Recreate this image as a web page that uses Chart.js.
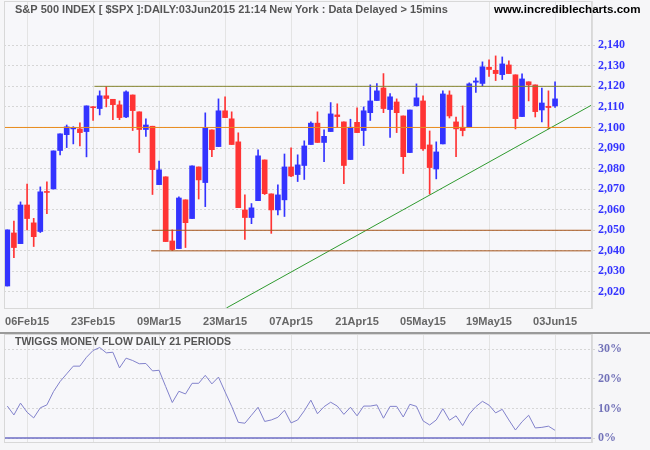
<!DOCTYPE html>
<html>
<head>
<meta charset="utf-8">
<script src="https://cdn.jsdelivr.net/npm/chart.js@4.4.1/dist/chart.umd.min.js"></script>
<style>
  html, body { margin: 0; padding: 0; background: #f6f6f8; }
  #wrap { position: relative; width: 650px; height: 450px; overflow: hidden; }
  #priceBox { position: absolute; left: 0; top: 0; width: 650px; height: 332px; }
  #flowBox { position: absolute; left: 0; top: 332px; width: 650px; height: 116px; border-top: 2px solid #9a9a9a; }
</style>
</head>
<body>
<div id="wrap">
  <div id="priceBox"><canvas id="price" width="650" height="332"></canvas></div>
  <div id="flowBox"><canvas id="flow" width="650" height="116"></canvas></div>
</div>
<script>
// S&P 500 daily candles, Feb - Jun 2015
const dates = ['03Feb15','04Feb15','05Feb15','06Feb15','09Feb15','10Feb15','11Feb15','12Feb15','13Feb15','17Feb15',
  '18Feb15','19Feb15','20Feb15','23Feb15','24Feb15','25Feb15','26Feb15','27Feb15','02Mar15','03Mar15',
  '04Mar15','05Mar15','06Mar15','09Mar15','10Mar15','11Mar15','12Mar15','13Mar15','16Mar15','17Mar15',
  '18Mar15','19Mar15','20Mar15','23Mar15','24Mar15','25Mar15','26Mar15','27Mar15','30Mar15','31Mar15',
  '01Apr15','02Apr15','06Apr15','07Apr15','08Apr15','09Apr15','10Apr15','13Apr15','14Apr15','15Apr15',
  '16Apr15','17Apr15','20Apr15','21Apr15','22Apr15','23Apr15','24Apr15','27Apr15','28Apr15','29Apr15',
  '30Apr15','01May15','04May15','05May15','06May15','07May15','08May15','11May15','12May15','13May15',
  '14May15','15May15','18May15','19May15','20May15','21May15','22May15','26May15','27May15','28May15',
  '29May15','01Jun15','02Jun15','03Jun15'];

const opens = [2022.9,2048.7,2043.5,2062.3,2053.6,2049.4,2068.7,2070.1,2088.8,2096.5,
  2099.3,2099.3,2098.0,2110.0,2109.2,2115.4,2113.7,2111.0,2105.1,2115.8,
  2107.6,2099.0,2100.6,2072.2,2076.0,2044.8,2041.1,2064.8,2055.7,2080.8,
  2073.2,2098.8,2090.7,2108.1,2104.2,2093.0,2059.9,2056.2,2064.4,2084.2,
  2067.7,2059.9,2064.8,2080.8,2077.1,2081.5,2091.7,2102.1,2092.7,2098.0,
  2106.1,2102.7,2084.4,2102.5,2098.5,2107.2,2113.1,2119.2,2108.7,2112.4,
  2105.6,2087.8,2110.5,2112.9,2091.5,2079.8,2092.0,2115.8,2102.7,2100.1,
  2100.3,2122.0,2121.4,2129.3,2127.8,2125.7,2130.4,2125.6,2105.3,2122.2,
  2120.7,2108.5,2110.3,2110.5];
const highs = [2050.2,2054.5,2063.8,2072.5,2055.8,2071.1,2073.5,2088.6,2096.9,2101.2,
  2100.4,2102.2,2110.5,2110.2,2117.8,2119.9,2113.7,2112.9,2117.8,2115.8,
  2107.6,2104.2,2100.6,2083.7,2076.0,2050.2,2066.3,2064.8,2081.3,2080.8,
  2107.1,2098.8,2113.9,2114.9,2107.6,2097.4,2067.2,2063.0,2089.1,2084.2,
  2067.7,2072.1,2087.1,2090.1,2086.7,2093.5,2102.7,2107.6,2098.8,2112.1,
  2111.5,2102.7,2104.0,2109.5,2110.0,2120.7,2121.4,2126.2,2116.5,2113.9,
  2105.6,2108.5,2121.2,2115.4,2098.3,2093.0,2117.8,2117.8,2105.1,2110.5,
  2121.7,2124.1,2131.9,2132.9,2134.8,2134.3,2132.4,2125.6,2126.1,2122.2,
  2120.7,2119.2,2117.8,2122.2];
const lows = [2022.9,2036.7,2043.5,2050.2,2042.1,2048.9,2058.1,2070.1,2086.7,2090.2,
  2092.0,2091.0,2085.7,2103.4,2106.1,2110.0,2103.8,2103.8,2104.8,2098.5,
  2087.8,2095.6,2067.4,2072.2,2044.5,2040.1,2041.1,2041.6,2055.7,2065.2,
  2061.5,2085.8,2090.7,2104.8,2091.7,2061.0,2045.5,2053.2,2064.4,2067.4,
  2048.5,2057.5,2056.7,2076.1,2073.7,2074.7,2091.7,2092.7,2083.4,2098.0,
  2100.1,2072.7,2084.4,2097.5,2091.2,2103.4,2113.1,2107.2,2095.1,2097.5,
  2077.6,2087.8,2110.5,2088.8,2067.6,2075.0,2092.0,2104.6,2085.8,2095.9,
  2100.3,2117.0,2120.2,2124.8,2122.8,2123.3,2126.2,2099.3,2105.3,2112.9,
  2105.1,2102.7,2099.3,2109.7];
const closes = [2050.2,2041.6,2062.3,2055.7,2046.9,2068.7,2068.4,2088.6,2096.9,2100.3,
  2099.8,2097.5,2110.5,2109.6,2115.4,2114.1,2111.1,2104.8,2117.3,2108.2,
  2099.0,2101.2,2079.5,2079.4,2044.5,2040.6,2065.7,2053.7,2081.3,2074.5,
  2099.9,2089.2,2108.1,2104.8,2091.7,2061.0,2056.2,2060.9,2086.2,2067.8,
  2059.9,2067.2,2080.8,2076.4,2081.8,2091.0,2102.1,2092.7,2095.7,2106.6,
  2105.3,2081.5,2100.1,2097.5,2108.1,2112.9,2117.8,2109.2,2114.9,2107.2,
  2085.8,2108.5,2114.4,2089.6,2080.5,2088.1,2116.3,2105.6,2099.3,2098.5,
  2121.2,2122.6,2129.5,2128.2,2126.2,2130.9,2126.2,2104.3,2123.6,2120.7,
  2107.7,2111.9,2109.7,2113.9];

// Twiggs Money Flow (21), percent
const flow = [10.8,7.8,11.8,8.7,6.8,10.2,11.2,15.7,19.1,21.7,
  24.3,24.3,27.3,29.6,30.6,28.8,29.0,23.7,27.0,26.2,
  25.1,25.2,22.7,22.9,17.4,12.0,15.8,14.9,18.5,18.5,
  21.2,18.3,20.6,15.6,10.7,5.3,5.0,7.7,10.4,5.6,
  6.1,7.0,9.4,5.1,6.1,9.2,12.8,8.2,10.6,12.1,
  10.8,8.0,10.4,7.5,10.8,10.8,11.2,6.7,10.7,10.7,
  7.1,11.4,10.7,5.8,4.4,6.1,9.9,6.0,7.5,4.2,
  8.1,10.6,12.4,11.1,8.5,9.7,6.1,2.7,5.5,7.7,
  3.4,3.6,4.0,2.6];

// drawn horizontal levels and trend line (value, first bar index)
const levelValues = [2120, 2100, 2050, 2040];
const levelFrom = [13.2, -0.5, 21.9, 21.8];
const levelColors = ['#85852e', '#e88a1a', '#a8561c', '#a8561c'];
const trendX = [33.2, 88.6];
const trendY = [2012.2, 2111.0];

const priceTicks = [2020, 2030, 2040, 2050, 2060, 2070, 2080, 2090, 2100, 2110, 2120, 2130, 2140];
const flowTicks = [0, 5, 10, 15, 20, 25, 30];
const dateTickIdx = [3, 13, 23, 33, 43, 53, 63, 73, 83];

const headerText = 'S&P 500 INDEX [ $SPX ]:DAILY:03Jun2015 21:14 New York : Data Delayed > 15mins';
const siteText = 'www.incrediblecharts.com';
const flowTitle = 'TWIGGS MONEY FLOW DAILY 21 PERIODS';

const X_MIN = -0.5, X_MAX = 88.6;
const PLOT_BG = '#f7f7fa';
const UP = '#3333ff', DOWN = '#ff3434';

const idx = dates.map((d, i) => i);
const candleColor = idx.map(i => closes[i] >= opens[i] ? UP : DOWN);
const bodies = idx.map(i => ({ x: i, y: [Math.min(opens[i], closes[i]), Math.max(opens[i], closes[i])] }));
const wicks = idx.map(i => ({ x: i, y: [lows[i], highs[i]] }));

const framePlugin = {
  id: 'frame',
  beforeDraw(chart) {
    const { ctx, chartArea: a } = chart;
    ctx.save();
    ctx.fillStyle = PLOT_BG;
    ctx.fillRect(a.left, a.top, a.right - a.left, a.bottom - a.top);
    ctx.restore();
  },
  afterDraw(chart) {
    const { ctx, chartArea: a } = chart;
    ctx.save();
    ctx.strokeStyle = '#d8d8d8';
    ctx.lineWidth = 1;
    ctx.strokeRect(a.left + 0.5, a.top + 0.5, a.right - a.left - 1, a.bottom - a.top);
    ctx.textBaseline = 'middle';
    if (chart.canvas.id === 'price') {
      ctx.font = 'bold 11px "Liberation Sans", Arial, sans-serif';
      ctx.fillStyle = '#555';
      ctx.fillText(headerText, 15, 10);
      ctx.font = 'bold 11.6px "Liberation Sans", Arial, sans-serif';
      ctx.fillStyle = '#000';
      ctx.fillText(siteText, 494, 10);
    } else {
      ctx.font = 'bold 10.5px "Liberation Sans", Arial, sans-serif';
      ctx.fillStyle = '#555';
      ctx.fillText(flowTitle, 15, 8);
    }
    ctx.restore();
  }
};

// keep the plot area exactly where the layout puts it
const noPad = s => { s.paddingTop = 0; s.paddingBottom = 0; s.paddingLeft = 0; s.paddingRight = 0; };

const vGrid = { color: '#e4e4e4', drawTicks: false, offset: false };
const xBase = {
  type: 'linear', min: X_MIN, max: X_MAX, offset: false,
  afterBuildTicks: s => { s.ticks = dateTickIdx.map(v => ({ value: v })); },
  grid: vGrid,
  border: { display: false }
};

const levelSets = levelValues.map((v, k) => ({
  type: 'line',
  data: [{ x: levelFrom[k], y: v }, { x: X_MAX, y: v }],
  borderColor: levelColors[k], borderWidth: 1, pointRadius: 0, order: 0
}));

new Chart(document.getElementById('price'), {
  type: 'bar',
  data: {
    datasets: [
      ...levelSets,
      {
        type: 'line',
        data: [{ x: trendX[0], y: trendY[0] }, { x: trendX[1], y: trendY[1] }],
        borderColor: '#2f9a2f', borderWidth: 1, pointRadius: 0, order: 0
      },
      { data: bodies, backgroundColor: candleColor, barThickness: 5, grouped: false, minBarLength: 1, order: 1 },
      { data: wicks, backgroundColor: candleColor, barThickness: 1, grouped: false, order: 2 }
    ]
  },
  options: {
    responsive: false, animation: false, events: [],
    layout: { padding: { left: 4, top: 1, right: 0, bottom: 0 } },
    plugins: { legend: { display: false }, tooltip: { enabled: false } },
    scales: {
      x: {
        ...xBase,
        afterFit: s => { s.height = 24; noPad(s); },
        ticks: {
          autoSkip: false, maxRotation: 0, padding: 7, color: '#666',
          font: { family: '"Liberation Sans", Arial, sans-serif', weight: 'bold', size: 11 },
          callback: v => dates[v]
        }
      },
      y: {
        position: 'right', min: 2012.2, max: 2161.5,
        afterBuildTicks: s => { s.ticks = priceTicks.map(v => ({ value: v })); },
        afterFit: s => { s.width = 58; noPad(s); },
        grid: { color: '#d6d6d6', tickLength: 4, tickBorderDash: [2, 2] },
        border: { color: '#dcdcdc', dash: [2, 2] },
        ticks: {
          padding: 2, color: '#3333ff',
          font: { family: '"Liberation Serif", serif', weight: 'bold', size: 12 },
          callback: v => v.toLocaleString('en-US')
        }
      }
    }
  },
  plugins: [framePlugin]
});

new Chart(document.getElementById('flow'), {
  type: 'line',
  data: {
    datasets: [
      { data: idx.map(i => ({ x: i, y: flow[i] })), borderColor: '#8282cc', borderWidth: 1, pointRadius: 0 },
      { data: [{ x: X_MIN, y: 0 }, { x: X_MAX, y: 0 }], borderColor: '#6e6ec4', borderWidth: 1.5, pointRadius: 0 }
    ]
  },
  options: {
    responsive: false, animation: false, events: [],
    layout: { padding: { left: 4, top: 0, right: 0, bottom: 0 } },
    plugins: { legend: { display: false }, tooltip: { enabled: false } },
    scales: {
      x: { ...xBase, afterFit: s => { s.height = 8; noPad(s); }, ticks: { display: false } },
      y: {
        position: 'right', min: -1.35, max: 35.17,
        afterBuildTicks: s => { s.ticks = flowTicks.map(v => ({ value: v })); },
        afterFit: s => { s.width = 58; noPad(s); },
        grid: { color: '#d6d6d6', tickLength: 4, tickBorderDash: [2, 2] },
        border: { color: '#dcdcdc', dash: [2, 2] },
        ticks: {
          padding: 2, color: '#7373b9',
          font: { family: '"Liberation Serif", serif', weight: 'bold', size: 12 },
          callback: v => v + '%'
        }
      }
    }
  },
  plugins: [framePlugin]
});
</script>
</body>
</html>
